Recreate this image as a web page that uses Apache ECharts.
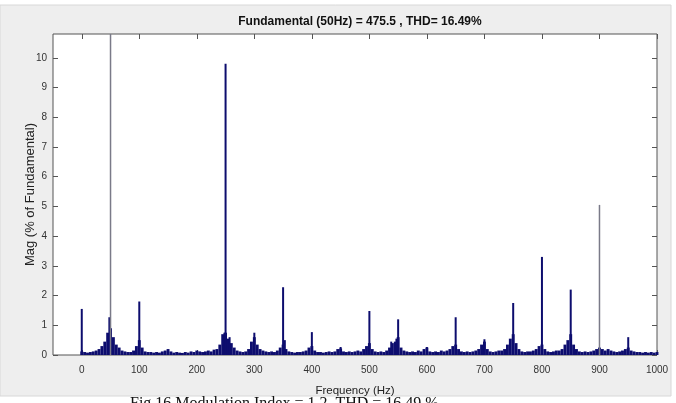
<!DOCTYPE html>
<html>
<head>
<meta charset="utf-8">
<script src="https://cdn.jsdelivr.net/npm/echarts@6/dist/echarts.min.js"></script>
<style>
html, body { margin: 0; padding: 0; background: #fff; }
#chart { width: 676px; height: 403px; }
</style>
</head>
<body>
<div id="chart"></div>
<script>
// Harmonic spectrum of the inverter output voltage (% of fundamental)
const titleText = 'Fundamental (50Hz) = 475.5 , THD= 16.49%';
const captionText = 'Fig.16 Modulation Index = 1.2, THD = 16.49 %';

// Noise floor, one bin every 5 Hz from 0 Hz to 1000 Hz
const floorStep = 5;
const floorMag = [
  0.12, 0.1, 0.08, 0.1, 0.12, 0.15, 0.2, 0.3, 0.45, 0.75, 0.9, 0.6, 0.35, 0.25, 0.15, 0.12, 0.1, 0.1, 0.15, 0.3,
  0.5, 0.25, 0.12, 0.1, 0.1, 0.08, 0.1, 0.08, 0.12, 0.15, 0.2, 0.12, 0.08, 0.1, 0.08, 0.07, 0.1, 0.08, 0.12, 0.1,
  0.15, 0.12, 0.1, 0.12, 0.15, 0.12, 0.18, 0.2, 0.35, 0.7, 0.75, 0.55, 0.4, 0.25, 0.15, 0.12, 0.1, 0.12, 0.2, 0.45,
  0.6, 0.35, 0.2, 0.15, 0.12, 0.1, 0.12, 0.1, 0.15, 0.25, 0.35, 0.2, 0.12, 0.1, 0.08, 0.1, 0.1, 0.12, 0.15, 0.25,
  0.3, 0.15, 0.1, 0.1, 0.08, 0.1, 0.12, 0.1, 0.12, 0.2, 0.22, 0.12, 0.1, 0.12, 0.1, 0.12, 0.15, 0.12, 0.2, 0.3,
  0.4, 0.2, 0.12, 0.1, 0.12, 0.1, 0.15, 0.25, 0.4, 0.45, 0.6, 0.25, 0.15, 0.12, 0.1, 0.12, 0.1, 0.15, 0.12, 0.2,
  0.25, 0.12, 0.1, 0.12, 0.1, 0.15, 0.12, 0.15, 0.2, 0.3, 0.35, 0.2, 0.12, 0.1, 0.12, 0.1, 0.12, 0.15, 0.2, 0.35,
  0.45, 0.2, 0.12, 0.1, 0.12, 0.15, 0.15, 0.2, 0.35, 0.55, 0.7, 0.4, 0.2, 0.12, 0.1, 0.12, 0.12, 0.15, 0.2, 0.3,
  0.35, 0.2, 0.12, 0.1, 0.12, 0.15, 0.15, 0.2, 0.35, 0.5, 0.7, 0.35, 0.2, 0.12, 0.1, 0.12, 0.1, 0.12, 0.15, 0.2,
  0.25, 0.2, 0.15, 0.2, 0.15, 0.12, 0.1, 0.12, 0.15, 0.2, 0.25, 0.15, 0.12, 0.1, 0.1, 0.08, 0.1, 0.08, 0.1, 0.08,
  0.1
];

// Harmonic and sideband peaks
const peakFreq = [0, 48, 100, 248, 250, 257, 300, 350, 353, 400, 450, 500, 538, 547, 550, 600, 650, 700, 750, 800, 850, 950];
const peakMag  = [1.55, 1.27, 1.8, 0.75, 9.8, 0.6, 0.75, 2.28, 0.5, 0.77, 0.27, 1.48, 0.45, 0.55, 1.2, 0.27, 1.27, 0.53, 1.75, 3.3, 2.2, 0.6];

// Fundamental and the 900 Hz component (thin grey lines)
const lineFreq = [50, 900];
const lineMag  = [100, 5.05];

// Axis ticks
const xTicks = [0, 100, 200, 300, 400, 500, 600, 700, 800, 900, 1000];
const yTicks = [0, 1, 2, 3, 4, 5, 6, 7, 8, 9, 10];

const floorData = floorMag.map((v, i) => [i * floorStep, v]);
const peakData = peakFreq.map((f, i) => [f, peakMag[i]]);
const lineData = lineFreq.map((f, i) => [f, lineMag[i]]);

const font = 'Liberation Sans, Arial, sans-serif';
const xRange = { min: -50, max: 1000 };
const tickStyle = { color: '#555' };

const chart = echarts.init(document.getElementById('chart'), null, { renderer: 'canvas' });
chart.setOption({
  backgroundColor: '#ffffff',
  animation: false,
  title: {
    text: titleText,
    left: 355,
    textAlign: 'center',
    top: 11,
    textStyle: { fontFamily: font, fontSize: 12, fontWeight: 'bold', color: '#111' }
  },
  graphic: [
    {
      type: 'rect', z: -10, silent: true,
      shape: { x: 0, y: 5, width: 671, height: 391 },
      style: { fill: '#eeeeee', stroke: '#d8d8d8', lineWidth: 1 }
    },
    {
      type: 'text', z: 10, silent: true,
      left: 130, top: 396,
      style: { text: captionText, fontFamily: 'Liberation Serif, Times New Roman, serif', fontSize: 16, fill: '#111' }
    }
  ],
  grid: {
    left: 53, right: 19, top: 34, bottom: 48,
    show: true, backgroundColor: '#ffffff', borderColor: '#555', borderWidth: 1
  },
  xAxis: [
    {
      type: 'value', position: 'bottom', ...xRange,
      name: 'Frequency (Hz)', nameLocation: 'middle', nameGap: 30,
      nameTextStyle: { fontFamily: font, fontSize: 11.5, color: '#222' },
      axisLine: { show: false, onZero: false },
      axisTick: { show: true, inside: true, length: 5, customValues: xTicks, lineStyle: tickStyle },
      axisLabel: {
        show: true, customValues: xTicks, margin: 10,
        fontFamily: font, fontSize: 10, color: '#333',
        formatter: v => String(v)
      },
      splitLine: { show: false }
    },
    {
      type: 'value', position: 'top', ...xRange,
      axisLine: { show: false, onZero: false },
      axisTick: { show: true, inside: true, length: 5, customValues: xTicks, lineStyle: tickStyle },
      axisLabel: { show: false },
      splitLine: { show: false }
    },
    {
      type: 'value', show: false, ...xRange
    }
  ],
  yAxis: [
    {
      type: 'value', position: 'left', min: 0, max: 10.8,
      name: 'Mag (% of Fundamental)', nameLocation: 'middle', nameGap: 16, nameRotate: 90,
      nameMoveOverlap: false,
      nameTextStyle: { fontFamily: font, fontSize: 13, color: '#222' },
      axisLine: { show: false, onZero: false },
      axisTick: { show: true, inside: true, length: 5, customValues: yTicks, lineStyle: tickStyle },
      axisLabel: { show: true, customValues: yTicks, margin: 6, fontFamily: font, fontSize: 10, color: '#333' },
      splitLine: { show: false }
    },
    {
      type: 'value', position: 'right', min: 0, max: 10.8,
      axisLine: { show: false, onZero: false },
      axisTick: { show: true, inside: true, length: 5, customValues: yTicks, lineStyle: tickStyle },
      axisLabel: { show: false },
      splitLine: { show: false }
    }
  ],
  series: [
    {
      name: 'floor', type: 'bar', xAxisIndex: 0, yAxisIndex: 0,
      data: floorData, barWidth: 2.9, clip: true,
      itemStyle: { color: '#0d0d6e' }
    },
    {
      name: 'peaks', type: 'bar', xAxisIndex: 1, yAxisIndex: 0,
      data: peakData, barWidth: 2, clip: true,
      itemStyle: { color: '#0d0d6e' }
    },
    {
      name: 'lines', type: 'bar', xAxisIndex: 2, yAxisIndex: 0,
      data: lineData, barWidth: 1.5, clip: true,
      itemStyle: { color: '#7a7a88' }
    }
  ]
});
</script>
</body>
</html>
